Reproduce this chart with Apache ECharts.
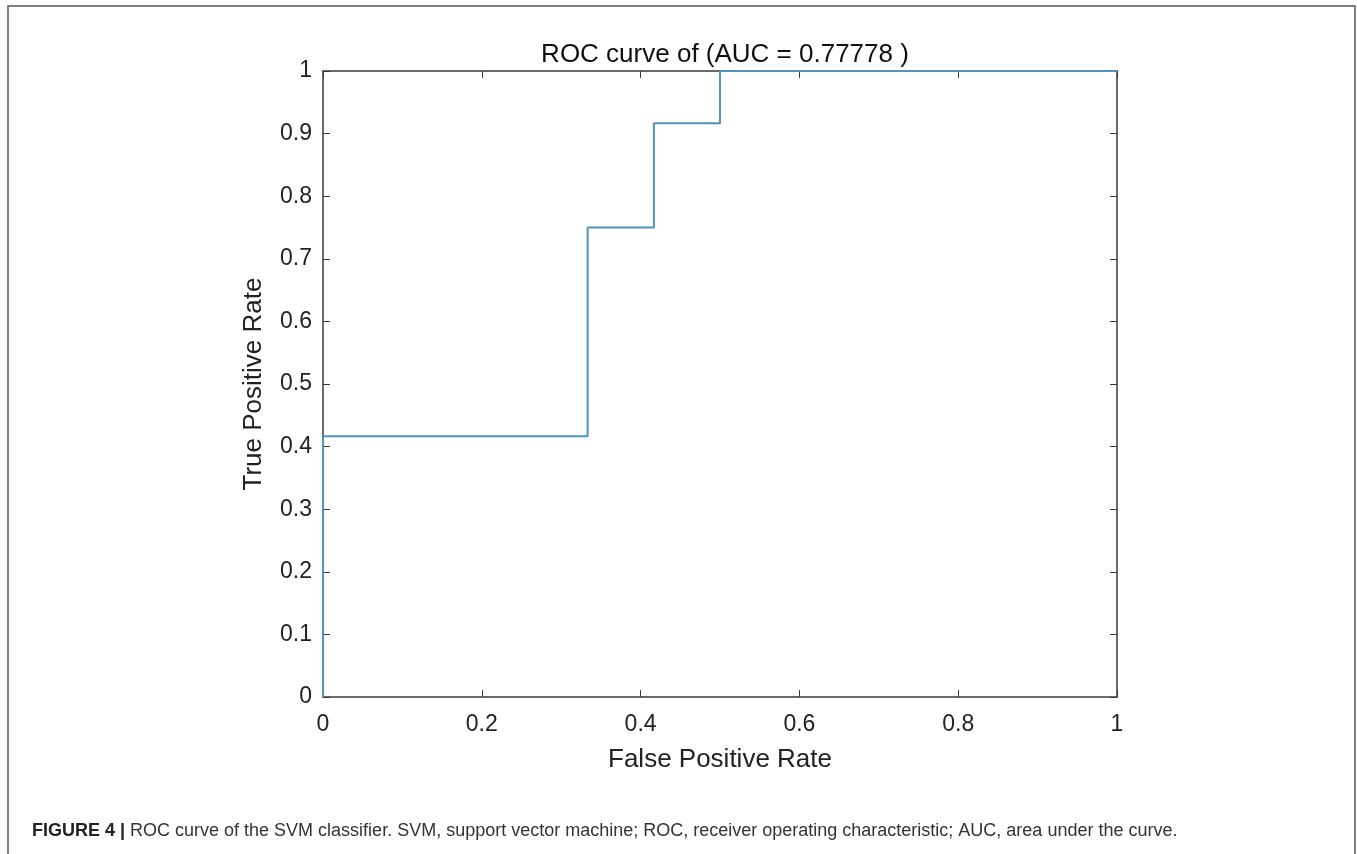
<!DOCTYPE html>
<html>
<head>
<meta charset="utf-8">
<script src="https://cdn.jsdelivr.net/npm/echarts@6/dist/echarts.min.js"></script>
<style>
  html, body { margin: 0; padding: 0; background: #fff; }
  #main { width: 1357px; height: 854px; }
</style>
</head>
<body>
<div id="main"></div>
<script>
// ROC points (step curve)
var fpr = [0, 0, 0.3333, 0.3333, 0.4167, 0.4167, 0.5, 0.5, 1];
var tpr = [0, 0.4167, 0.4167, 0.75, 0.75, 0.9167, 0.9167, 1, 1];
var xTicks = [0, 0.2, 0.4, 0.6, 0.8, 1];
var yTicks = [0, 0.1, 0.2, 0.3, 0.4, 0.5, 0.6, 0.7, 0.8, 0.9, 1];
var titleText = 'ROC curve of (AUC = 0.77778 )';
var captionHead = 'FIGURE 4 |';
var captionBody = ' ROC curve of the SVM classifier. SVM, support vector machine; ROC, receiver operating characteristic; AUC, area under the curve.';

var pts = [];
for (var i = 0; i < fpr.length; i++) pts.push([fpr[i], tpr[i]]);

var font = '"Liberation Sans", Arial, Helvetica, sans-serif';
var axisCol = '#3a3a3a';

// box axes (top / right) only carry ticks
function boxAxis(pos, ticks) {
  return {
    type: 'value', min: 0, max: 1, position: pos,
    axisLine: { show: true, onZero: false, lineStyle: { color: axisCol, width: 1.5 } },
    axisTick: { show: true, inside: true, length: 7, customValues: ticks, lineStyle: { color: axisCol } },
    axisLabel: { show: false },
    splitLine: { show: false }
  };
}

var myChart = echarts.init(document.getElementById('main'));
var option = {
  backgroundColor: '#fff',
  animation: false,
  textStyle: { fontFamily: font },
  title: {
    text: titleText,
    left: 720, top: 37, textAlign: 'center',
    textStyle: { fontSize: 26, fontWeight: 'normal', color: '#111', fontFamily: font }
  },
  grid: { left: 323, top: 71, width: 794, height: 626 },
  xAxis: [{
    type: 'value', min: 0, max: 1,
    name: 'False Positive Rate', nameLocation: 'middle', nameGap: 50,
    nameTextStyle: { fontSize: 26, color: '#222', fontFamily: font },
    axisLine: { show: true, onZero: false, lineStyle: { color: axisCol, width: 1.5 } },
    axisTick: { show: true, inside: true, length: 7, customValues: xTicks, lineStyle: { color: axisCol } },
    axisLabel: { customValues: xTicks, fontSize: 23, color: '#222', margin: 16, fontFamily: font },
    splitLine: { show: false }
  }, boxAxis('top', xTicks)],
  yAxis: [{
    type: 'value', min: 0, max: 1,
    name: 'True Positive Rate', nameLocation: 'middle', nameGap: 56,
    nameTextStyle: { fontSize: 26, color: '#222', fontFamily: font },
    axisLine: { show: true, onZero: false, lineStyle: { color: axisCol, width: 1.5 } },
    axisTick: { show: true, inside: true, length: 7, customValues: yTicks, lineStyle: { color: axisCol } },
    axisLabel: { customValues: yTicks, fontSize: 23, color: '#222', margin: 11, fontFamily: font },
    splitLine: { show: false }
  }, boxAxis('right', yTicks)],
  series: [{
    type: 'line',
    data: pts,
    showSymbol: false,
    lineStyle: { color: '#5093bd', width: 2 },
    z: 5
  }],
  graphic: [{
    type: 'rect',
    shape: { x: 8, y: 6, width: 1347, height: 860 },
    style: { fill: 'none', stroke: '#555', lineWidth: 1.5 },
    silent: true
  }, {
    type: 'text',
    left: 32, top: 822,
    style: {
      text: '{b|' + captionHead + '}{r|' + captionBody + '}',
      rich: {
        b: { fontWeight: 'bold', fontSize: 18, fill: '#222', fontFamily: font },
        r: { fontSize: 18, fill: '#333', fontFamily: font }
      }
    }
  }]
};
myChart.setOption(option);
</script>
</body>
</html>
